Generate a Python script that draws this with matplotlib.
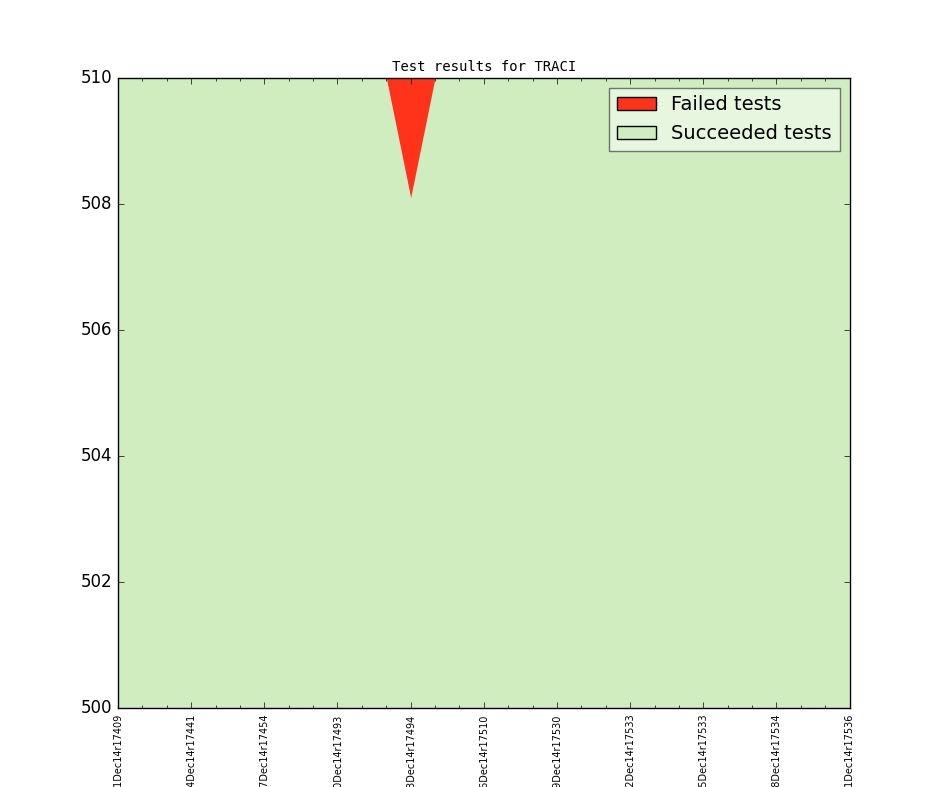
import matplotlib
matplotlib.use("Agg")
import matplotlib.pyplot as plt
from matplotlib.patches import Rectangle
from matplotlib.ticker import MultipleLocator
import numpy as np

plt.style.use('classic')

# Data
day_index = list(range(31))
total_tests = [510] * 31
failed_tests = [0] * 31
failed_tests[12] = 1.9
tick_positions = [0, 3, 6, 9, 12, 15, 18, 21, 24, 27, 30]
tick_labels = ["01Dec14r17409", "04Dec14r17441", "07Dec14r17454", "10Dec14r17493",
               "13Dec14r17494", "16Dec14r17510", "19Dec14r17530", "22Dec14r17533",
               "25Dec14r17533", "28Dec14r17534", "31Dec14r17536"]

x = np.array(day_index)
total = np.array(total_tests, dtype=float)
failed = np.array(failed_tests, dtype=float)
succeeded = total - failed

red = '#ff3319'
green = '#cfedbf'

fig = plt.figure(figsize=(9.44, 7.87), dpi=100, facecolor='white')
ax = fig.add_subplot(111)
fig.subplots_adjust(left=0.125, right=0.9, bottom=0.1, top=0.901)

ax.fill_between(x, 0, succeeded, facecolor=green, linewidth=0)
ax.fill_between(x, succeeded, total, facecolor=red, linewidth=0)

ax.set_xlim(0, 30)
ax.set_ylim(500, 510)
ax.set_xticks(tick_positions)
ax.set_xticklabels(tick_labels, rotation=90, fontsize=7)
ax.xaxis.set_minor_locator(MultipleLocator(1))
ax.set_yticks([500, 502, 504, 506, 508, 510])
ax.tick_params(axis='y', labelsize=12)

ax.set_title("Test results for TRACI", fontsize=10, family='monospace')

handles = [Rectangle((0, 0), 1, 1, facecolor=red, edgecolor='black'),
           Rectangle((0, 0), 1, 1, facecolor=green, edgecolor='black')]
leg = ax.legend(handles, ["Failed tests", "Succeeded tests"], loc='upper right',
                fontsize=14, framealpha=0.5)

fig.savefig("out.png", dpi=100, facecolor='white')
